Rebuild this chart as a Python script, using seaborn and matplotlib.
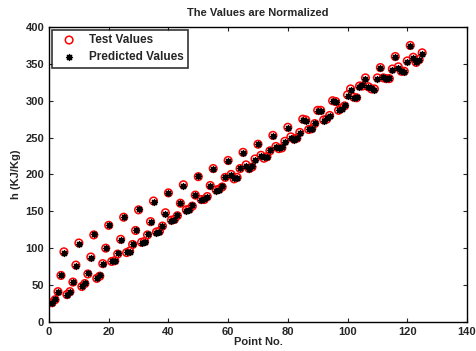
import numpy as np
import pandas as pd
import seaborn as sns
import matplotlib
matplotlib.use("Agg")
import matplotlib.pyplot as plt

# values (point no. 1..125)
test_values = [
    26, 30, 41, 63, 95,
    37, 41, 54, 77, 107,
    48, 52, 65, 88, 118,
    59, 62, 79, 100, 131,
    82, 83, 92, 112, 142,
    94, 96, 105, 124, 152,
    108, 109, 118, 136, 164,
    122, 123, 130, 148, 175,
    138, 139, 144, 161, 186,
    152, 153, 157, 172, 197,
    166, 166, 170, 185, 208,
    179, 180, 183, 196, 219,
    200, 194, 196, 208, 230,
    213, 208, 210, 221, 241,
    226, 222, 224, 232, 253,
    238, 235, 236, 245, 264,
    251, 248, 249, 257, 275,
    274, 261, 262, 269, 287,
    287, 274, 275, 280, 300,
    299, 287, 290, 293, 308,
    316, 305, 304, 320, 320,
    331, 319, 316, 316, 331,
    345, 331, 330, 330, 343,
    360, 346, 340, 340, 354,
    375, 359, 352, 356, 365,
]

predicted_values = [
    25, 31, 41, 64, 93,
    36, 40, 54, 76, 106,
    48, 53, 66, 87, 119,
    59, 63, 78, 100, 131,
    82, 82, 93, 111, 142,
    95, 95, 105, 125, 153,
    107, 109, 119, 136, 163,
    121, 122, 130, 147, 175,
    137, 138, 145, 161, 185,
    151, 152, 158, 172, 198,
    165, 167, 169, 184, 208,
    178, 179, 184, 196, 218,
    199, 195, 195, 209, 229,
    212, 207, 211, 220, 241,
    225, 223, 223, 233, 252,
    237, 236, 237, 244, 263,
    250, 247, 249, 256, 274,
    273, 262, 261, 270, 286,
    286, 273, 276, 279, 300,
    298, 288, 289, 294, 307,
    315, 304, 305, 319, 321,
    330, 318, 317, 315, 330,
    344, 332, 329, 331, 342,
    359, 345, 341, 339, 353,
    374, 358, 353, 355, 364,
]

point_no = list(range(1, len(test_values) + 1))

df = pd.DataFrame({"Point No.": point_no,
                   "Test Values": test_values,
                   "Predicted Values": predicted_values})

sns.set_style("ticks")
plt.rcParams["font.family"] = ["Liberation Sans", "DejaVu Sans"]
plt.rcParams["font.weight"] = "bold"

fig = plt.figure(figsize=(4.76, 3.51), dpi=100)
ax = fig.add_axes([0.103, 0.083, 0.878, 0.840])

sns.scatterplot(data=df, x="Point No.", y="Test Values", ax=ax,
                marker="o", s=30, facecolors="none", edgecolor="red",
                linewidth=1.1, label="Test Values")
sns.scatterplot(data=df, x="Point No.", y="Predicted Values", ax=ax,
                marker=(8, 2, 0), s=18, color="black", edgecolor="black",
                linewidth=1.0, label="Predicted Values")

ax.set_xlim(0, 140)
ax.set_ylim(0, 400)
ax.set_xticks(range(0, 141, 20))
ax.set_yticks(range(0, 401, 50))
ax.tick_params(direction="in", top=True, right=True, length=3,
               labelsize=8, width=0.8)
for lbl in ax.get_xticklabels() + ax.get_yticklabels():
    lbl.set_fontweight("bold")
for sp in ax.spines.values():
    sp.set_linewidth(1.0)
    sp.set_color("black")

ax.set_xlabel("Point No.", fontsize=8, fontweight="bold", labelpad=0)
ax.set_ylabel("h (KJ/Kg)", fontsize=8, fontweight="bold", labelpad=3)
ax.set_title("The Values are Normalized", fontsize=8, fontweight="bold", pad=8)

leg = ax.legend(loc="upper left", fontsize=8.5, frameon=True, fancybox=False,
                edgecolor="black", borderaxespad=0.25, handletextpad=0.6,
                borderpad=0.35, labelspacing=0.45, handlelength=2.2)
leg.get_frame().set_linewidth(1.2)
for t in leg.get_texts():
    t.set_fontweight("bold")

fig.savefig("out.png", dpi=100)
